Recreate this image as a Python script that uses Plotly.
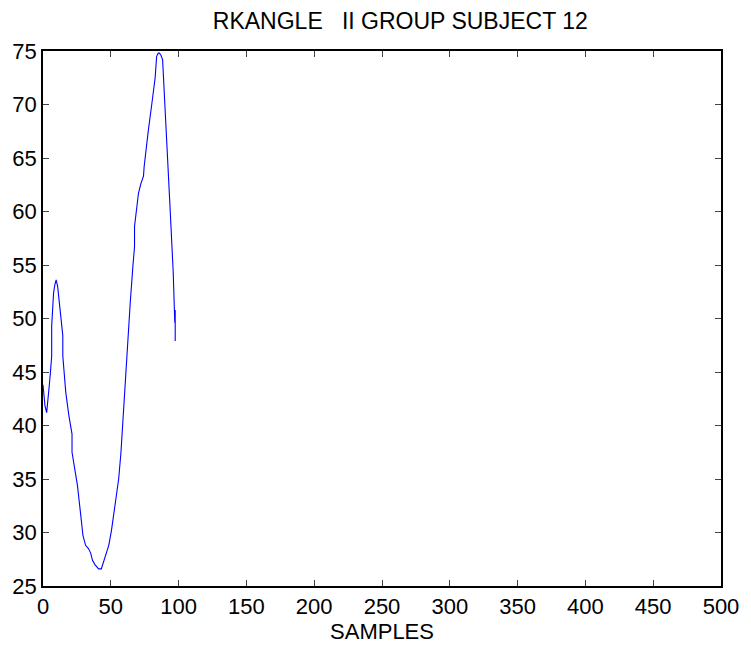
import plotly.graph_objects as go

# RKANGLE trace for subject 12 (sample index vs angle)
samples = [0, 1.5, 2.7, 4.0, 4.6, 5.5, 6.4, 6.4, 7.0, 7.8, 8.8, 9.7, 10.8, 11.9,
           13.3, 14.6, 14.6, 15.6, 16.8, 19.0, 21.4, 21.4, 23.5, 25.4, 27.5,
           29.5, 31.4, 33.5, 35.1, 36.5, 38.3, 40.0, 41.0, 43.0, 44.4, 46.5,
           48.5, 50.5, 52.1, 52.6, 55.8, 57.5, 59.0, 59.4, 61.9, 64.3, 66.3,
           67.5, 67.5, 69.2, 70.4, 72.2, 74.1, 74.6, 76.0, 77.7, 80.2, 81.9,
           82.7, 83.8, 85.0, 85.8, 87.0, 88.2, 88.7, 89.2, 91.1, 93.6, 94.8,
           96.0, 97.2, 97.5, 97.5]
angle = [43.8, 41.8, 41.2, 42.6, 43.7, 45.0, 46.5, 49.3, 51.0, 52.4, 53.2, 53.6,
         53.0, 51.8, 50.2, 48.4, 46.5, 44.8, 43.1, 41.0, 39.2, 37.5, 35.9, 34.4,
         32.0, 29.7, 28.8, 28.5, 28.1, 27.4, 27.0, 26.7, 26.6, 26.6, 27.2, 28.0,
         28.8, 30.2, 31.6, 32.5, 35.0, 37.5, 40.6, 42.4, 47.1, 51.4, 54.9,
         56.7, 58.6, 60.5, 61.7, 62.6, 63.3, 64.2, 66.0, 67.6, 70.0, 71.7,
         72.5, 74.5, 74.8, 74.8, 74.6, 74.2, 72.9, 70.4, 66.9, 60.6, 58.0,
         54.4, 49.6, 50.8, 47.9]

x_ticks = [0, 50, 100, 150, 200, 250, 300, 350, 400, 450, 500]
y_ticks = [25, 30, 35, 40, 45, 50, 55, 60, 65, 70, 75]

font_family = "Liberation Sans, Arial, sans-serif"

fig = go.Figure(
    go.Scatter(
        x=samples,
        y=angle,
        mode="lines",
        line=dict(color="#0000ff", width=1.1),
        showlegend=False,
    )
)

axis_common = dict(
    showgrid=False,
    zeroline=False,
    showline=True,
    linecolor="black",
    linewidth=1.5,
    mirror="ticks",
    ticks="inside",
    ticklen=6,
    tickwidth=1,
    tickcolor="#444",
    tickfont=dict(family=font_family, size=22, color="black"),
)

fig.update_xaxes(
    range=[0, 500],
    tickvals=x_ticks,
    ticktext=[str(v) for v in x_ticks],
    title=dict(text="SAMPLES", font=dict(family=font_family, size=22, color="black"),
               standoff=1),
    **axis_common,
)
fig.update_yaxes(
    range=[25, 75],
    tickvals=y_ticks,
    ticktext=[str(v) for v in y_ticks],
    **axis_common,
)

fig.update_layout(
    width=751,
    height=648,
    margin=dict(l=42, r=25, t=51, b=61),
    paper_bgcolor="white",
    plot_bgcolor="white",
    title=dict(
        text="RKANGLE   II GROUP SUBJECT 12",
        x=0.533,
        xanchor="center",
        y=1 - 21 / 648,
        yanchor="middle",
        font=dict(family=font_family, size=23, color="black"),
    ),
)

fig.write_html("out.html")
